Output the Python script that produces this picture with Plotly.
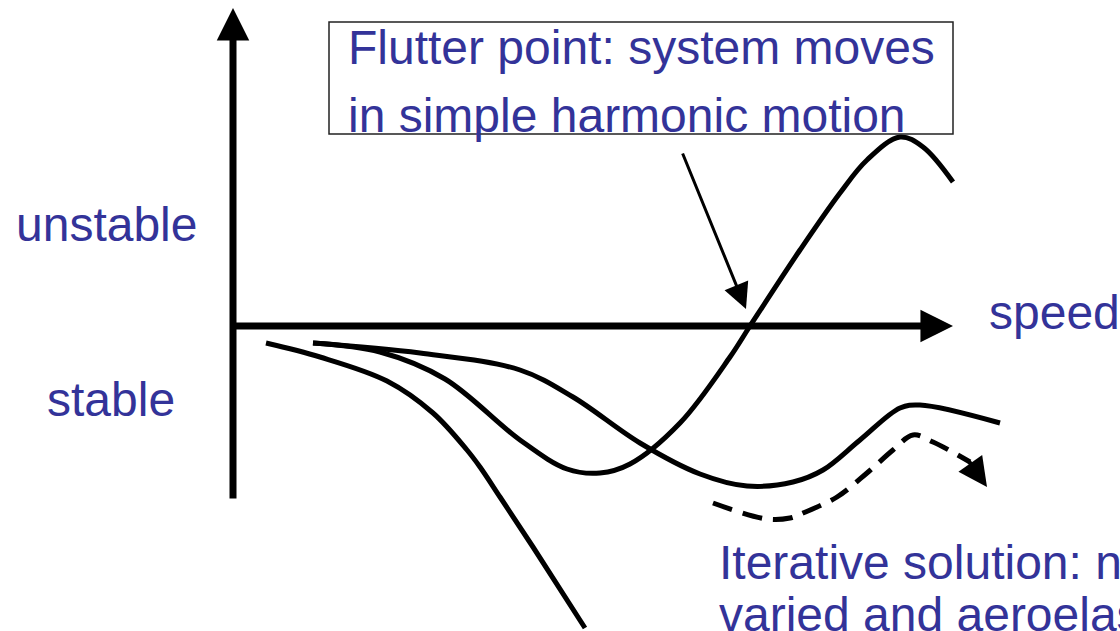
import plotly.graph_objects as go

# ---- data (in canvas pixel units) ----
steep_x = [266, 320, 387, 433, 467, 480, 500, 533, 585]
steep_y = [343, 357, 381, 413, 450, 467, 497, 547, 628]

flutter_x = [313, 380, 445, 520, 567, 600, 630, 680, 730, 750, 800, 840, 867, 900, 923, 953]
flutter_y = [343, 352, 379, 440, 469, 473, 464, 423, 357, 326, 250, 193, 160, 137, 147, 182]

upper_x = [313, 420, 520, 573, 640, 700, 747, 793, 823, 860, 900, 920, 1000]
upper_y = [343, 353, 370, 397, 443, 474, 486, 482, 470, 440, 408, 405, 423]

iter_x = [713, 767, 790, 803, 837, 867, 893, 913, 933, 970]
iter_y = [503, 519, 518, 513, 497, 473, 450, 435, 442, 462]

label_text = ["unstable", "stable", "speed"]
label_x = [15, 46, 988]
label_y = [224, 399, 312]

box_lines = ["Flutter point: system moves", "in simple harmonic motion"]
box_line_y = [47, 115]
iter_lines = ["Iterative solution: n", "varied and aeroelas"]
iter_line_y = [562, 614]

TEXT_COLOR = "#333399"
FONT = "Liberation Sans, Arial, sans-serif"
FS = 48

fig = go.Figure()
for xs, ys, dash in [(steep_x, steep_y, "solid"), (flutter_x, flutter_y, "solid"),
                     (upper_x, upper_y, "solid"), (iter_x, iter_y, "20px,11px")]:
    fig.add_trace(go.Scatter(x=xs, y=ys, mode="lines",
                             line=dict(color="black", width=5, shape="spline", smoothing=1.0, dash=dash),
                             hoverinfo="skip", showlegend=False))

ann = []
# axes with arrowheads
ann.append(dict(x=233, y=8, ax=233, ay=500, xref="x", yref="y", axref="x", ayref="y",
                text="", showarrow=True, arrowhead=2, arrowsize=0.93, arrowwidth=7, arrowcolor="black"))
ann.append(dict(x=953, y=326, ax=230, ay=326, xref="x", yref="y", axref="x", ayref="y",
                text="", showarrow=True, arrowhead=2, arrowsize=0.93, arrowwidth=7, arrowcolor="black"))
# flutter pointer arrow
ann.append(dict(x=746, y=309, ax=682, ay=152, xref="x", yref="y", axref="x", ayref="y",
                text="", showarrow=True, arrowhead=2, arrowsize=1.7, arrowwidth=3, arrowcolor="black"))
# dashed curve arrowhead
ann.append(dict(x=987, y=487, ax=968, ay=460, xref="x", yref="y", axref="x", ayref="y",
                text="", showarrow=True, arrowhead=2, arrowsize=1.45, arrowwidth=4, arrowcolor="black"))

for t, x, y in zip(label_text, label_x, label_y):
    ann.append(dict(x=x, y=y, xref="x", yref="y", text=t, showarrow=False, xanchor="left",
                    yanchor="middle", borderpad=0, font=dict(family=FONT, size=FS, color=TEXT_COLOR)))
for t, y in zip(box_lines, box_line_y):
    ann.append(dict(x=347, y=y, xref="x", yref="y", text=t, showarrow=False, xanchor="left",
                    yanchor="middle", borderpad=0, font=dict(family=FONT, size=FS, color=TEXT_COLOR)))
for t, y in zip(iter_lines, iter_line_y):
    ann.append(dict(x=718, y=y, xref="x", yref="y", text=t, showarrow=False, xanchor="left",
                    yanchor="middle", borderpad=0, font=dict(family=FONT, size=FS, color=TEXT_COLOR)))

fig.update_layout(
    width=1120, height=631,
    margin=dict(l=0, r=0, t=0, b=0),
    paper_bgcolor="white", plot_bgcolor="white",
    xaxis=dict(range=[0, 1120], visible=False, fixedrange=True),
    yaxis=dict(range=[631, 0], visible=False, fixedrange=True),
    annotations=ann,
    shapes=[dict(type="rect", xref="x", yref="y", x0=329, y0=22, x1=953, y1=134,
                 line=dict(color="#222222", width=1.5), fillcolor="rgba(0,0,0,0)", layer="above")],
)

fig.write_html("out.html", config={"displayModeBar": False},
               post_script="document.body.style.margin='0';document.body.style.overflow='hidden';")
